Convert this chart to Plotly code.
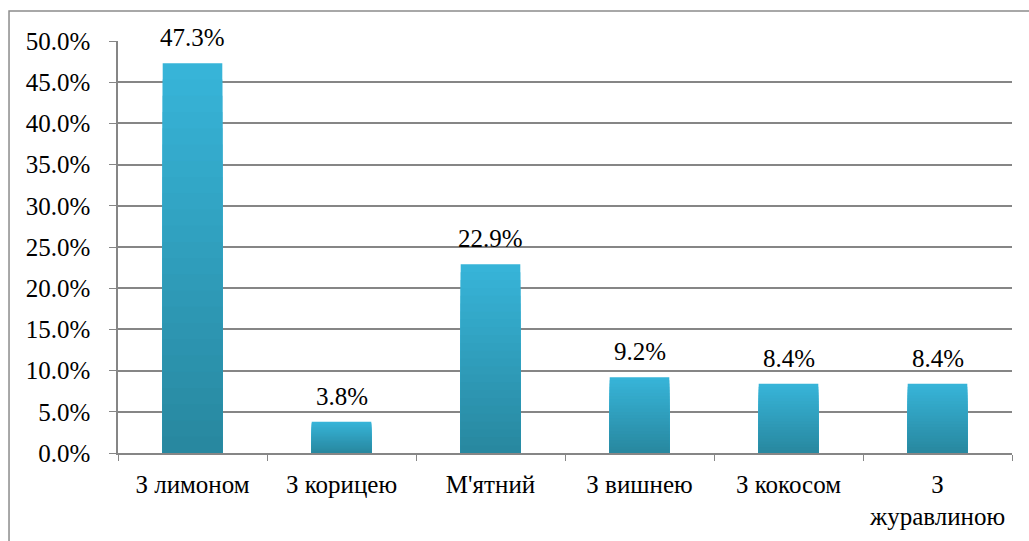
import plotly.graph_objects as go

# Share of respondents choosing each tea flavour
categories = ["З лимоном", "З корицею", "М'ятний", "З вишнею", "З кокосом", "З<br>журавлиною"]
shares = [0.473, 0.038, 0.229, 0.092, 0.084, 0.084]
y_ticks = [0.0, 0.05, 0.10, 0.15, 0.20, 0.25, 0.30, 0.35, 0.40, 0.45, 0.50]

SERIF = "Liberation Serif"
TOP_RGB = (55, 180, 216)
BOTTOM_RGB = (40, 136, 160)
STEPS = 24

fig = go.Figure()

# Vertical gradient: overlay progressively shorter bars, each darker than the last
for k in range(STEPS):
    frac = 1 - k / STEPS
    t = k / (STEPS - 1)
    rgb = tuple(round(a + (b - a) * t) for a, b in zip(TOP_RGB, BOTTOM_RGB))
    fig.add_trace(go.Bar(
        x=categories,
        y=[v * frac for v in shares],
        marker=dict(color="rgb(%d,%d,%d)" % rgb, line=dict(width=0)),
        hoverinfo="skip",
        showlegend=False,
    ))

# Value labels above each bar
annotations = [
    dict(x=c, y=v, xref="x", yref="y", text="%.1f%%" % (v * 100),
         showarrow=False, yanchor="bottom", yshift=10,
         font=dict(family=SERIF, size=25))
    for c, v in zip(categories, shares)
]

fig.update_layout(
    width=1029,
    height=541,
    margin=dict(l=118, r=17, t=41, b=88),
    barmode="overlay",
    bargap=0.6,
    plot_bgcolor="white",
    paper_bgcolor="white",
    font=dict(family=SERIF, size=25, color="black"),
    annotations=annotations,
    shapes=[dict(
        type="rect", xref="paper", yref="paper",
        x0=-0.1219, x1=1.1, y0=-0.4, y1=1.0728,
        line=dict(color="#8c8c8c", width=1.5),
        fillcolor="rgba(0,0,0,0)", layer="below",
    )],
)

fig.update_xaxes(
    type="category",
    showline=True, linecolor="#868686", linewidth=1.5,
    ticks="outside", tickson="boundaries", ticklen=6, tickcolor="#868686",
    showgrid=False,
    tickangle=0,
    ticklabelstandoff=8,
    tickfont=dict(family=SERIF, size=25),
)

fig.update_yaxes(
    range=[0, 0.5],
    tickvals=y_ticks,
    tickformat=".1%",
    showline=True, linecolor="#868686", linewidth=1.5,
    ticks="outside", ticklen=7, tickcolor="#868686",
    showgrid=True, gridcolor="#868686", gridwidth=1.5,
    zeroline=False,
    ticklabelstandoff=14,
    tickfont=dict(family=SERIF, size=25),
)

fig.write_html("out.html")
